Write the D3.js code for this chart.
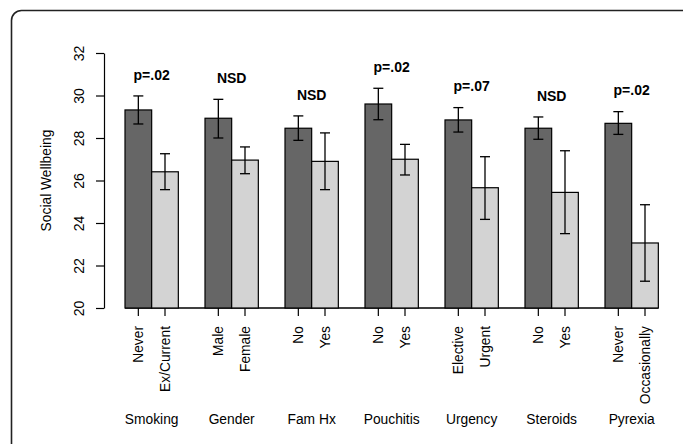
<!DOCTYPE html>
<html>
<head>
<meta charset="utf-8">
<script src="https://cdn.jsdelivr.net/npm/d3@7"></script>
<style>
  body { margin: 0; background: #fff; }
  svg text { font-family: "Liberation Sans", Arial, sans-serif; fill: #000; }
</style>
</head>
<body>
<div id="chart"></div>
<script>
const groups = ['Smoking', 'Gender', 'Fam Hx', 'Pouchitis', 'Urgency', 'Steroids', 'Pyrexia']
const levels = [
  ['Never', 'Ex/Current'],
  ['Male', 'Female'],
  ['No', 'Yes'],
  ['No', 'Yes'],
  ['Elective', 'Urgent'],
  ['No', 'Yes'],
  ['Never', 'Occasionally']
]
const means = [
  [29.32, 26.41],
  [28.93, 26.96],
  [28.46, 26.90],
  [29.60, 27.00],
  [28.85, 25.66],
  [28.46, 25.44],
  [28.69, 23.06]
]
const upper = [
  [29.98, 27.26],
  [29.82, 27.58],
  [29.04, 28.24],
  [30.34, 27.70],
  [29.43, 27.12],
  [28.99, 27.40],
  [29.24, 24.86]
]
const lower = [
  [28.66, 25.57],
  [28.00, 26.32],
  [27.89, 25.57],
  [28.86, 26.26],
  [28.28, 24.17],
  [27.94, 23.50],
  [28.17, 21.26]
]
const pvals = ['p=.02', 'NSD', 'NSD', 'p=.02', 'p=.07', 'NSD', 'p=.02']
const yTicks = [20, 22, 24, 26, 28, 30, 32]
const fills = ['#666666', '#d3d3d3']

const W = 683, H = 444
const svg = d3.select('#chart').append('svg')
  .attr('width', W)
  .attr('height', H)

// outer frame, runs off the right and bottom edges
svg.append('rect')
  .attr('x', 11.5)
  .attr('y', 10.5)
  .attr('width', 682)
  .attr('height', 500)
  .attr('rx', 10)
  .style('fill', 'none')
  .style('stroke', '#222')
  .style('stroke-width', 1.6)

const y = d3.scaleLinear().domain([20, 32]).range([308, 53])

// each group: two bars and one bar-width gap
const x = d3.scaleBand().domain(groups).range([125, 685]).paddingInner(0).paddingOuter(0)
const bw = x.bandwidth() / 3
const xb = d3.scaleBand().domain([0, 1]).range([0, 2 * bw])

const yAxis = svg.append('g')
  .attr('transform', 'translate(104,0)')
  .call(d3.axisLeft(y).tickValues(yTicks).tickSize(8).tickSizeOuter(0).tickPadding(0))
yAxis.select('.domain').style('stroke', '#000').style('stroke-width', 1.2)
yAxis.selectAll('.tick line').style('stroke', '#000').style('stroke-width', 1.2)
yAxis.selectAll('.tick text')
  .attr('x', 0)
  .attr('dy', null)
  .attr('transform', 'translate(-25,0) rotate(-90)')
  .attr('text-anchor', 'middle')
  .attr('dominant-baseline', 'central')
  .style('font-size', '14px')

svg.append('text')
  .attr('transform', 'translate(46,' + (y(26)) + ') rotate(-90)')
  .attr('text-anchor', 'middle')
  .attr('dominant-baseline', 'central')
  .style('font-size', '13.8px')
  .text('Social Wellbeing')

// baseline
svg.append('line')
  .attr('x1', x(groups[0]))
  .attr('x2', x(groups[groups.length - 1]) + 2 * bw)
  .attr('y1', y(20))
  .attr('y2', y(20))
  .style('stroke', '#000')
  .style('stroke-width', 1.4)

groups.forEach((g, gi) => {
  const gx = svg.append('g').attr('transform', 'translate(' + x(g) + ',0)')

  ;[0, 1].forEach(j => {
    const cx = xb(j) + bw / 2
    gx.append('rect')
      .attr('x', xb(j))
      .attr('y', y(means[gi][j]))
      .attr('width', bw)
      .attr('height', y(20) - y(means[gi][j]))
      .style('fill', fills[j])
      .style('stroke', '#000')
      .style('stroke-width', 1.2)

    // error bar
    gx.append('line')
      .attr('x1', cx).attr('x2', cx)
      .attr('y1', y(upper[gi][j])).attr('y2', y(lower[gi][j]))
      .style('stroke', '#000').style('stroke-width', 1.3)
    ;[upper[gi][j], lower[gi][j]].forEach(v => {
      gx.append('line')
        .attr('x1', cx - 5).attr('x2', cx + 5)
        .attr('y1', y(v)).attr('y2', y(v))
        .style('stroke', '#000').style('stroke-width', 1.3)
    })

    // tick + rotated level label
    gx.append('line')
      .attr('x1', cx).attr('x2', cx)
      .attr('y1', y(20)).attr('y2', y(20) + 8)
      .style('stroke', '#000').style('stroke-width', 1.2)
    gx.append('text')
      .attr('transform', 'translate(' + cx + ',' + (y(20) + 18) + ') rotate(-90)')
      .attr('text-anchor', 'end')
      .attr('dominant-baseline', 'central')
      .style('font-size', '13.8px')
      .text(levels[gi][j])
  })

  gx.append('text')
    .attr('x', bw)
    .attr('y', y(d3.max(upper[gi]) + 1))
    .attr('text-anchor', 'middle')
    .attr('dominant-baseline', 'central')
    .style('font-size', '14px')
    .style('font-weight', 'bold')
    .text(pvals[gi])

  gx.append('text')
    .attr('x', bw)
    .attr('y', 419)
    .attr('text-anchor', 'middle')
    .attr('dominant-baseline', 'central')
    .style('font-size', '13.8px')
    .text(g)
})
</script>
</body>
</html>
